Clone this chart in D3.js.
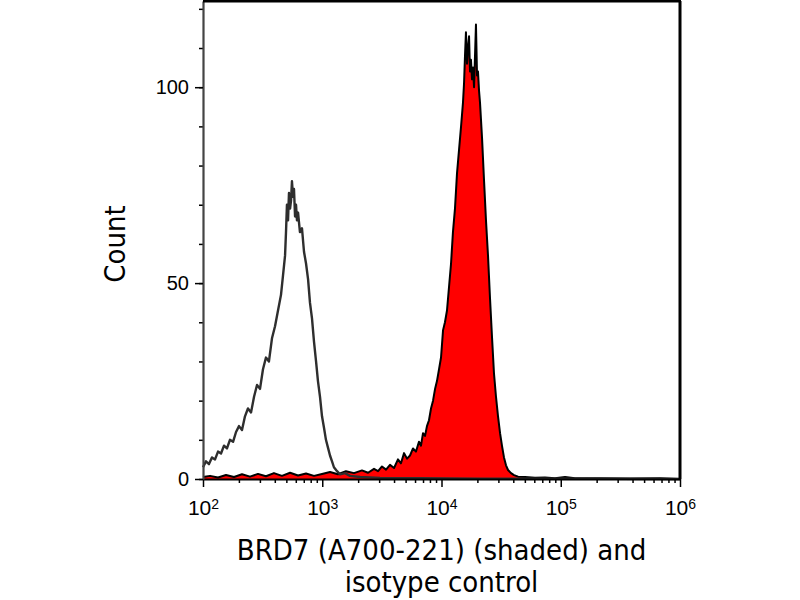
<!DOCTYPE html>
<html>
<head>
<meta charset="utf-8">
<script src="https://cdn.jsdelivr.net/npm/d3@7"></script>
<style>
  body { margin: 0; background: #fff; }
  svg { display: block; font-family: "DejaVu Sans Condensed", "DejaVu Sans", sans-serif; }
</style>
</head>
<body>
<svg id="histo" width="800" height="600"></svg>
<script>
// log10 of fluorescence and counts
const isoExp = [2.000, 2.025, 2.050, 2.075, 2.101, 2.126, 2.151, 2.176, 2.201, 2.226,
  2.252, 2.277, 2.302, 2.327, 2.352, 2.377, 2.403, 2.428, 2.453, 2.478,
  2.503, 2.528, 2.553, 2.579, 2.604, 2.629, 2.654, 2.671, 2.688, 2.696,
  2.704, 2.713, 2.721, 2.730, 2.738, 2.746, 2.755, 2.763, 2.772, 2.780,
  2.788, 2.797, 2.813, 2.830, 2.847, 2.864, 2.881, 2.897, 2.914, 2.931,
  2.948, 2.964, 2.981, 2.998, 3.015, 3.031, 3.048, 3.065, 3.082, 3.098,
  3.124, 3.149, 3.191, 3.233, 3.317, 3.484, 3.820, 4.323, 4.994, 6.000];
const isoCount = [3, 4.5, 3.8, 5.5, 5, 7, 6.5, 8.5, 7.8, 10,
  9.5, 12, 13.5, 12.5, 16, 18, 17, 21, 24, 23,
  28, 31, 30, 36, 39, 43, 47, 52, 57, 63,
  70, 66, 73, 69, 71, 76, 72, 74, 67, 70,
  66, 68, 63, 64, 58, 55, 51, 45, 41, 35,
  30, 25, 21, 16, 13, 10, 8, 6, 4.5, 3,
  2, 1.2, 1.5, 0.8, 0.5, 0.3, 0.2, 0.1, 0.1, 0];

const brdExp = [2.000, 2.059, 2.126, 2.193, 2.260, 2.327, 2.394, 2.461, 2.528, 2.595,
  2.662, 2.730, 2.797, 2.864, 2.931, 2.998, 3.065, 3.132, 3.199, 3.266,
  3.333, 3.384, 3.434, 3.468, 3.501, 3.535, 3.568, 3.602, 3.635, 3.660,
  3.686, 3.711, 3.736, 3.761, 3.786, 3.811, 3.828, 3.845, 3.862, 3.878,
  3.895, 3.912, 3.929, 3.946, 3.962, 3.979, 3.996, 4.013, 4.029, 4.046,
  4.063, 4.080, 4.096, 4.113, 4.130, 4.147, 4.164, 4.180, 4.189, 4.197,
  4.205, 4.214, 4.222, 4.231, 4.239, 4.247, 4.256, 4.264, 4.273, 4.281,
  4.289, 4.298, 4.306, 4.315, 4.323, 4.340, 4.357, 4.373, 4.390, 4.407,
  4.424, 4.440, 4.457, 4.474, 4.491, 4.507, 4.524, 4.541, 4.558, 4.583,
  4.608, 4.642, 4.700, 4.784, 4.868, 4.952, 5.036, 5.119, 5.329, 5.581,
  5.832, 6.000];
const brdCount = [0.5, 0.8, 0.4, 1.0, 0.5, 1.2, 0.6, 1.3, 0.7, 1.5,
  0.8, 1.6, 0.9, 1.4, 0.8, 1.3, 1.8, 1.2, 2.0, 1.5,
  2.2, 1.6, 2.6, 2.0, 3.2, 2.4, 3.6, 2.8, 5.0, 4.0,
  6.6, 5.2, 6.0, 7.8, 7.0, 9.5, 8.5, 11.7, 11, 13.5,
  15, 18, 20, 23, 25, 28, 31, 38, 40, 43,
  49, 55, 63, 69, 78, 84, 90, 96, 101, 108,
  114, 106, 110, 113, 104, 107, 102, 105, 100, 108,
  116, 103, 104, 99, 96, 87, 76, 66, 57, 46,
  36, 27, 21, 16, 11.7, 8.5, 5.5, 3.5, 2.3, 1.5,
  1.0, 0.6, 0.5, 0.3, 0.4, 0.2, 0.5, 0.2, 0.2, 0.1,
  0.2, 0];

const yMajor = [0, 50, 100];
const yMinor = [0, 10, 20, 30, 40, 50, 60, 70, 80, 90, 100, 110, 120];
const xDecades = [2, 3, 4, 5, 6];
const xTitle = ['BRD7 (A700-221) (shaded) and', 'isotype control'];
const yTitle = 'Count';

const svg = d3.select('#histo');
const margin = {top: 1, right: 120, bottom: 121, left: 203};
const width = +svg.attr('width') - margin.left - margin.right;
const height = +svg.attr('height') - margin.top - margin.bottom;
const g = svg.append('g').attr('transform', `translate(${margin.left},${margin.top})`);

const x = d3.scaleLog().domain([1e2, 1e6]).range([0, width]);
const y = d3.scaleLinear().domain([0, 122]).range([height, 0]);

const iso = isoExp.map((e, i) => [Math.pow(10, e), isoCount[i]]);
const brd = brdExp.map((e, i) => [Math.pow(10, e), brdCount[i]]);

// shaded histogram
g.append('path')
  .datum(brd)
  .attr('fill', '#ff0000')
  .attr('d', d3.area().x(d => x(d[0])).y0(y(0)).y1(d => y(d[1])));

g.append('path')
  .datum(brd)
  .attr('fill', 'none')
  .attr('stroke', '#000')
  .attr('stroke-width', 2)
  .attr('stroke-linejoin', 'round')
  .attr('d', d3.line().x(d => x(d[0])).y(d => y(d[1])));

// isotype outline
g.append('path')
  .datum(iso)
  .attr('fill', 'none')
  .attr('stroke', '#2e2e2e')
  .attr('stroke-width', 2.4)
  .attr('stroke-linejoin', 'round')
  .attr('d', d3.line().x(d => x(d[0])).y(d => y(d[1])));

// minor ticks
const minorX = [];
xDecades.slice(0, -1).forEach(p => {
  for (let k = 2; k <= 9; k++) minorX.push(k * Math.pow(10, p));
});

g.append('g')
  .attr('transform', `translate(0,${height})`)
  .call(d3.axisBottom(x).tickValues(minorX).tickSize(4).tickFormat(''))
  .call(a => a.select('.domain').remove())
  .selectAll('line').attr('stroke-width', 1.5);

g.append('g')
  .call(d3.axisLeft(y).tickValues(yMinor).tickSize(4).tickFormat(''))
  .call(a => a.select('.domain').remove())
  .selectAll('line').attr('stroke-width', 1.5);

// major x axis
const xAxis = g.append('g')
  .attr('transform', `translate(0,${height})`)
  .call(d3.axisBottom(x)
    .tickValues(xDecades.map(p => Math.pow(10, p)))
    .tickSize(8)
    .tickPadding(13)
    .tickSizeOuter(0)
    .tickFormat(''));
xAxis.select('.domain').attr('stroke-width', 2);
xAxis.selectAll('line').attr('stroke-width', 1.5);
xAxis.selectAll('.tick text')
  .style('font-size', '21px')
  .attr('fill', '#000')
  .each(function(d) {
    const t = d3.select(this);
    t.append('tspan').text('10');
    t.append('tspan').attr('dy', '-0.45em').style('font-size', '14px')
      .text(Math.round(Math.log10(d)));
  });

// major y axis
const yAxis = g.append('g')
  .call(d3.axisLeft(y)
    .tickValues(yMajor)
    .tickSize(8)
    .tickPadding(6)
    .tickSizeOuter(0));
yAxis.select('.domain').attr('stroke', '#444').attr('stroke-width', 2.2);
yAxis.selectAll('line').attr('stroke-width', 1.5);
yAxis.selectAll('.tick text').style('font-size', '20px').attr('fill', '#000');

// top and right frame
g.append('line')
  .attr('x1', 0).attr('x2', width + 1)
  .attr('y1', 0).attr('y2', 0)
  .attr('stroke', '#000').attr('stroke-width', 3);
g.append('line')
  .attr('x1', width).attr('x2', width)
  .attr('y1', 0).attr('y2', height)
  .attr('stroke', '#000').attr('stroke-width', 3);

// axis titles
svg.append('text')
  .attr('transform', `translate(${margin.left - 78},${margin.top + y(60)}) rotate(-90)`)
  .attr('text-anchor', 'middle')
  .style('font-size', '29px')
  .text(yTitle);

svg.append('text')
  .attr('text-anchor', 'middle')
  .style('font-size', '29px')
  .selectAll('tspan')
  .data(xTitle)
  .enter().append('tspan')
  .attr('x', margin.left + width / 2)
  .attr('y', (d, i) => 560 + i * 32)
  .text(d => d);
</script>
</body>
</html>
